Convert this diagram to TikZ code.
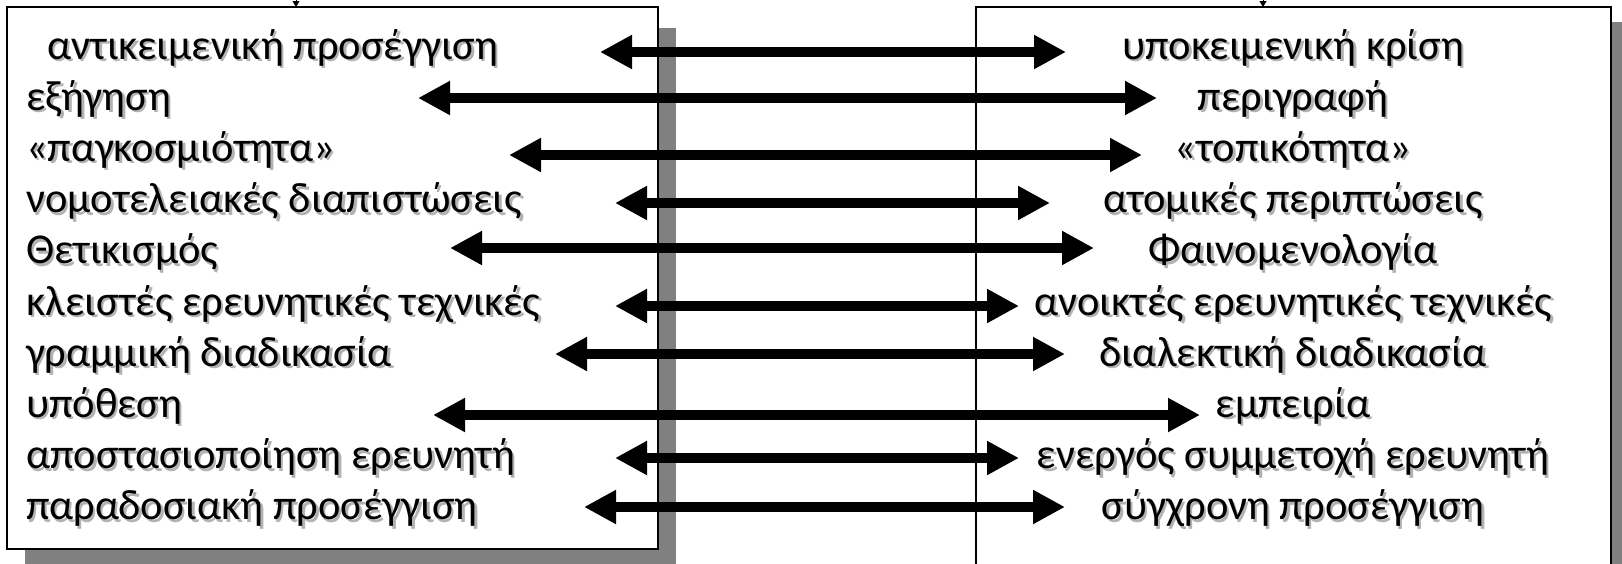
\documentclass[tikz,border=0pt]{standalone}
\usepackage{fontspec}
\setmainfont{Carlito}
\usetikzlibrary{arrows.meta}
\begin{document}
\begin{tikzpicture}[x=1pt,y=-1pt,
  panel/.style={draw=black, line width=1.8pt, fill=white},
  panelshadow/.style={fill=black!50, draw=none},
  txt/.style={font=\fontsize{42.5}{48}\selectfont, inner sep=0pt, text=black},
  txtshadow/.style={font=\fontsize{42.5}{48}\selectfont, inner sep=0pt, text=black!30},
  conn/.style={line width=10.6pt, {Triangle[length=32pt,width=32pt]}-{Triangle[length=32pt,width=32pt]}},
  feed/.style={line width=1pt, -{Triangle[length=6pt,width=7pt]}},
]
\useasboundingbox (0,0) rectangle (1622,563);
% panels with shadows
\fill[panelshadow] (25,28) rectangle (676,566);
\draw[panel] (7,7) rectangle (658,549);
\fill[panelshadow] (994,22) rectangle (1630,600);
\draw[panel] (976,7) rectangle (1611,600);
% incoming tips at the top
\coordinate (topL) at (296,-10);
\coordinate (topLend) at (296,7);
\coordinate (topR) at (1263,-10);
\coordinate (topRend) at (1263,7);
\draw[feed] (topL) -- (topLend);
\draw[feed] (topR) -- (topRend);
% texts (with soft text shadow)
\foreach \i/\lx/\lt/\rt in {
  1/47/αντικειμενική προσέγγιση/υποκειμενική κρίση,
  2/26/εξήγηση/περιγραφή,
  3/26/«παγκοσμιότητα»/«τοπικότητα»,
  4/26/νομοτελειακές διαπιστώσεις/ατομικές περιπτώσεις,
  5/26/Θετικισμός/Φαινομενολογία,
  6/26/κλειστές ερευνητικές τεχνικές/ανοικτές ερευνητικές τεχνικές,
  7/26/γραμμική διαδικασία/διαλεκτική διαδικασία,
  8/26/υπόθεση/εμπειρία,
  9/26/αποστασιοποίηση ερευνητή/ενεργός συμμετοχή ερευνητή,
  10/26/παραδοσιακή προσέγγιση/σύγχρονη προσέγγιση}{
  \pgfmathsetmacro{\by}{59+51.2*(\i-1)}
  \node[txtshadow, anchor=base west] (Ls\i) at (\lx+2.5,\by+2.5) {\lt};
  \node[txt, anchor=base west] (L\i) at (\lx,\by) {\lt};
  \node[txtshadow, anchor=base] (Rs\i) at (1293+2.5,\by+2.5) {\rt};
  \node[txt, anchor=base] (R\i) at (1293,\by) {\rt};
}
% connectors
\foreach \i/\xa/\xb/\yy in {
  1/600/1066/52,
  2/418/1157/98,
  3/509/1142/155,
  4/615/1050/203,
  5/450/1094/248,
  6/615/1019/306,
  7/555/1065/354,
  8/433/1200/415,
  9/615/1019/458,
  10/584/1065/507}{
  \coordinate (a\i) at (\xa,\yy);
  \coordinate (b\i) at (\xb,\yy);
  \draw[conn] (a\i) -- (b\i);
}
\end{tikzpicture}
\end{document}
